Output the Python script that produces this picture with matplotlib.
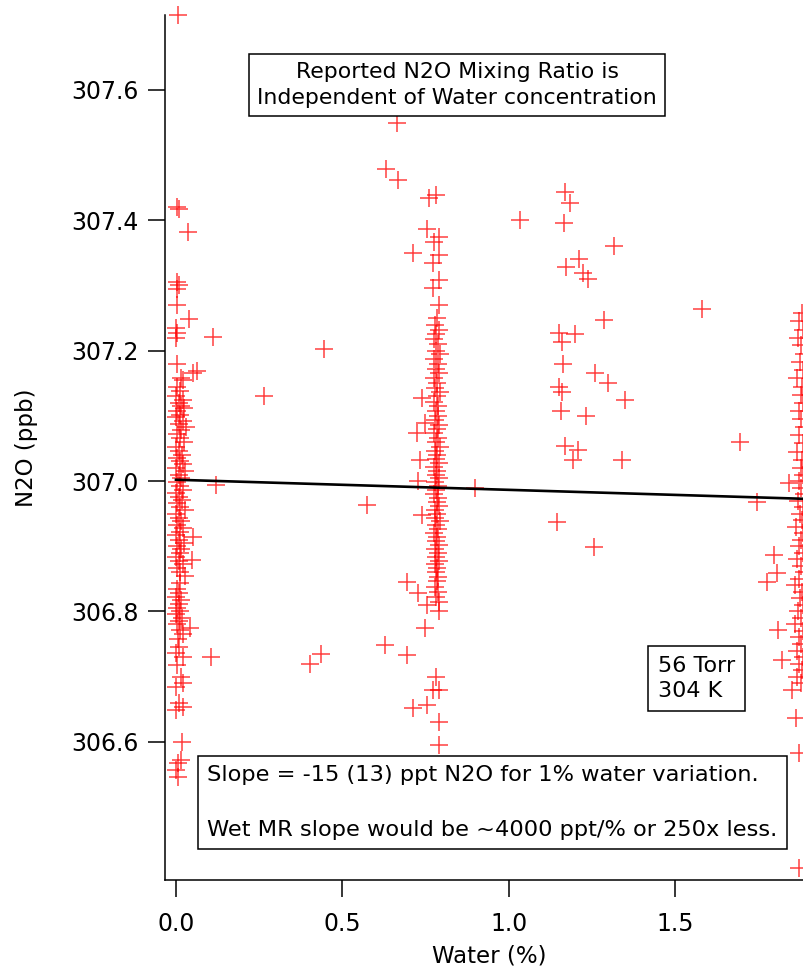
import matplotlib
matplotlib.use("Agg")
import matplotlib.pyplot as plt

# ── data (Water %, N2O ppb) ────────────────────────────────────────────
# dry cluster near 0 % water
dry_x = [0.006, 0.003, 0.008, 0.036, 0.003, 0.008, 0.003, 0.003, 0.040, 0.000,
         0.003, 0.000, 0.111, 0.003, 0.063, 0.051, 0.015, 0.021, 0.120, 0.050,
         0.047, 0.013, 0.042, 0.000, 0.020, 0.105, 0.020, 0.000, 0.010, 0.020,
         0.000, 0.018, 0.015, 0.005, 0.000, 0.005,
         0.004, 0.012, 0.000, 0.020, 0.008, 0.016, 0.025, 0.004, 0.012, 0.000,
         0.020, 0.008, 0.030, 0.016, 0.004, 0.012, 0.024, 0.000, 0.008, 0.018,
         0.004, 0.012, 0.020, 0.000, 0.028, 0.008, 0.016, 0.004, 0.012, 0.022,
         0.000, 0.008, 0.018, 0.004, 0.012, 0.026, 0.000, 0.008, 0.016, 0.004,
         0.020, 0.012, 0.000, 0.008, 0.024, 0.004, 0.016, 0.012, 0.000, 0.008,
         0.020, 0.004, 0.012, 0.028,
         0.004, 0.010, 0.000, 0.016, 0.008, 0.004, 0.012, 0.000, 0.018, 0.008,
         0.004, 0.012, 0.020, 0.006, 0.010, 0.002, 0.014]
dry_y = [307.715, 307.420, 307.417, 307.382, 307.305, 307.300, 307.294, 307.270, 307.248, 307.235,
         307.227, 307.220, 307.221, 307.180, 307.169, 307.166, 307.158, 307.155, 306.994, 306.914,
         306.879, 306.843, 306.775, 306.736, 306.730, 306.730, 306.690, 306.684, 306.660, 306.653,
         306.649, 306.600, 306.572, 306.567, 306.557, 306.546,
         307.145, 307.138, 307.130, 307.125, 307.120, 307.115, 307.112, 307.108, 307.102, 307.098,
         307.092, 307.088, 307.083, 307.078, 307.072, 307.066, 307.060, 307.052, 307.046, 307.040,
         307.036, 307.031, 307.026, 307.020, 307.016, 307.010, 307.005, 306.998, 306.992, 306.987,
         306.982, 306.976, 306.971, 306.966, 306.960, 306.955, 306.950, 306.944, 306.938, 306.933,
         306.928, 306.922, 306.917, 306.910, 306.905, 306.900, 306.895, 306.890, 306.884, 306.878,
         306.872, 306.866, 306.860, 306.855,
         306.835, 306.828, 306.822, 306.817, 306.812, 306.806, 306.801, 306.796, 306.790, 306.785,
         306.780, 306.772, 306.765, 306.758, 306.745, 306.718, 306.700]

# stray points between the clusters
stray_x = [0.264, 0.444, 0.574, 0.628, 0.436, 0.402, 0.898, 1.033, 1.580, 1.694]
stray_y = [307.130, 307.202, 306.963, 306.748, 306.735, 306.720, 306.990, 307.400, 307.264, 307.060]

# cluster near 0.78 % water
mid_x = [0.664, 0.631, 0.667, 0.760, 0.780, 0.754, 0.775, 0.790, 0.712, 0.790,
         0.772, 0.790, 0.772, 0.790, 0.739, 0.748, 0.724, 0.733, 0.727, 0.739,
         0.694, 0.727, 0.754, 0.790, 0.748, 0.694, 0.781, 0.772, 0.790, 0.712,
         0.754, 0.790, 0.790,
         0.785, 0.778, 0.790, 0.782, 0.775, 0.788, 0.780, 0.792, 0.776, 0.786,
         0.781, 0.790, 0.774, 0.784, 0.779, 0.792, 0.783, 0.776, 0.788, 0.781,
         0.786, 0.778, 0.790, 0.783, 0.775, 0.787, 0.780, 0.792, 0.777, 0.785,
         0.782, 0.789, 0.776, 0.784, 0.780, 0.791, 0.778, 0.786, 0.781, 0.775,
         0.788, 0.783, 0.790, 0.779, 0.785, 0.777, 0.792, 0.782, 0.787, 0.776,
         0.784, 0.780, 0.789, 0.778, 0.786, 0.782, 0.791, 0.777, 0.784, 0.780,
         0.788, 0.783, 0.779, 0.786, 0.781, 0.790]
mid_y = [307.550, 307.478, 307.462, 307.434, 307.439, 307.386, 307.367, 307.374, 307.350, 307.347,
         307.334, 307.308, 307.296, 307.270, 307.127, 307.089, 307.074, 307.032, 307.000, 306.948,
         306.845, 306.828, 306.810, 306.800, 306.775, 306.733, 306.700, 306.680, 306.680, 306.652,
         306.656, 306.630, 306.595,
         307.250, 307.240, 307.232, 307.225, 307.218, 307.210, 307.200, 307.195, 307.188, 307.180,
         307.172, 307.165, 307.158, 307.150, 307.143, 307.137, 307.130, 307.122, 307.115, 307.108,
         307.100, 307.093, 307.086, 307.080, 307.073, 307.066, 307.060, 307.053, 307.046, 307.040,
         307.034, 307.028, 307.022, 307.016, 307.010, 307.004, 306.998, 306.992, 306.986, 306.980,
         306.974, 306.968, 306.962, 306.956, 306.950, 306.944, 306.938, 306.932, 306.926, 306.920,
         306.914, 306.908, 306.902, 306.896, 306.890, 306.884, 306.878, 306.872, 306.866, 306.860,
         306.853, 306.846, 306.838, 306.830, 306.822, 306.815]

# loose group around 1.2 % water
loose_x = [1.168, 1.183, 1.165, 1.315, 1.210, 1.171, 1.222, 1.237, 1.285, 1.150,
           1.198, 1.159, 1.162, 1.258, 1.297, 1.150, 1.159, 1.348, 1.156, 1.231,
           1.168, 1.207, 1.192, 1.339, 1.144, 1.255]
loose_y = [307.443, 307.426, 307.396, 307.360, 307.340, 307.328, 307.319, 307.310, 307.247, 307.227,
           307.225, 307.213, 307.180, 307.165, 307.150, 307.144, 307.136, 307.124, 307.107, 307.100,
           307.054, 307.048, 307.033, 307.033, 306.937, 306.899]

# wet cluster at the right edge (~1.88 % water)
wet_x = [1.745, 1.840, 1.796, 1.805, 1.775, 1.820, 1.808, 1.850, 1.862, 1.870,
         1.870,
         1.880, 1.872, 1.884, 1.868, 1.878, 1.886, 1.874, 1.882, 1.866, 1.880,
         1.876, 1.884, 1.870, 1.878, 1.886, 1.872, 1.882, 1.864, 1.880, 1.876,
         1.884, 1.870, 1.878, 1.886, 1.868, 1.882, 1.874, 1.880, 1.862, 1.884,
         1.876, 1.870, 1.882, 1.866, 1.878, 1.886, 1.872, 1.860, 1.880, 1.874,
         1.884, 1.868, 1.878, 1.858, 1.882, 1.870, 1.876, 1.864, 1.884, 1.872,
         1.880, 1.866, 1.878]
wet_y = [306.968, 306.997, 306.886, 306.859, 306.845, 306.725, 306.772, 306.680, 306.636, 306.583,
         306.406,
         307.258, 307.245, 307.232, 307.220, 307.208, 307.195, 307.183, 307.170, 307.158, 307.145,
         307.132, 307.120, 307.108, 307.095, 307.083, 307.070, 307.058, 307.045, 307.032, 307.020,
         307.010, 307.000, 306.990, 306.980, 306.970, 306.960, 306.950, 306.940, 306.930, 306.920,
         306.910, 306.900, 306.890, 306.880, 306.870, 306.860, 306.850, 306.840, 306.830, 306.820,
         306.810, 306.800, 306.790, 306.780, 306.770, 306.760, 306.750, 306.740, 306.730, 306.720,
         306.710, 306.700, 306.690]

# linear fit: slope in ppb per % water
fit_intercept = 307.002
fit_slope = -0.0155
fit_x = [0.0, 1.95]

x_ticks = [0.0, 0.5, 1.0, 1.5]
y_ticks = [306.6, 306.8, 307.0, 307.2, 307.4, 307.6]

plt.rcParams["font.family"] = ["DejaVu Sans"]

fig = plt.figure(figsize=(8.04, 9.67), dpi=100)
ax = fig.add_axes([0.2052, 0.09, 0.7948, 0.8945])

all_x = dry_x + stray_x + mid_x + loose_x + wet_x
all_y = dry_y + stray_y + mid_y + loose_y + wet_y
ax.plot(all_x, all_y, linestyle="none", marker="+", markersize=12.5,
        markeredgewidth=1.1, color="#ff0000", alpha=0.75, clip_on=False, zorder=2)

fit_y = [fit_intercept + fit_slope * v for v in fit_x]
ax.plot(fit_x, fit_y, color="black", linewidth=1.9, zorder=3)

ax.set_xlim(-0.033, 1.886)
ax.set_ylim(306.388, 307.715)
ax.set_xticks(x_ticks)
ax.set_xticklabels([f"{v:.1f}" for v in x_ticks])
ax.set_yticks(y_ticks)
ax.set_yticklabels([f"{v:.1f}" for v in y_ticks])

for side in ("top", "right"):
    ax.spines[side].set_visible(False)
for side in ("left", "bottom"):
    ax.spines[side].set_linewidth(1.1)
ax.tick_params(axis="both", direction="out", length=12, width=1.1,
               labelsize=17)
ax.tick_params(axis="y", pad=7)
ax.tick_params(axis="x", pad=11)

ax.set_xlabel("Water (%)", fontsize=16.5, va="center")
ax.set_ylabel("N2O (ppb)", fontsize=16.5)
ax.xaxis.set_label_coords(0.507, -0.088)
ax.yaxis.set_label_coords(-0.199, 0.5)


def boxed(pad):
    return dict(boxstyle=f"square,pad={pad}", facecolor="white",
                edgecolor="black", linewidth=1.1)


ax.text(0.457, 0.919, "Reported N2O Mixing Ratio is\nIndependent of Water concentration",
        transform=ax.transAxes, ha="center", va="center", fontsize=15.8,
        linespacing=1.35, bbox=boxed(0.38), zorder=5)
ax.text(0.7715, 0.233, "56 Torr\n304 K", transform=ax.transAxes,
        ha="left", va="center", fontsize=16, linespacing=1.3,
        bbox=boxed(0.45), zorder=5)
ax.text(0.0665, 0.0896,
        "Slope = -15 (13) ppt N2O for 1% water variation.\n\n"
        "Wet MR slope would be ~4000 ppt/% or 250x less.",
        transform=ax.transAxes, ha="left", va="center", fontsize=16.2,
        linespacing=1.45, bbox=boxed(0.4), zorder=5)

fig.savefig("out.png", dpi=100)
